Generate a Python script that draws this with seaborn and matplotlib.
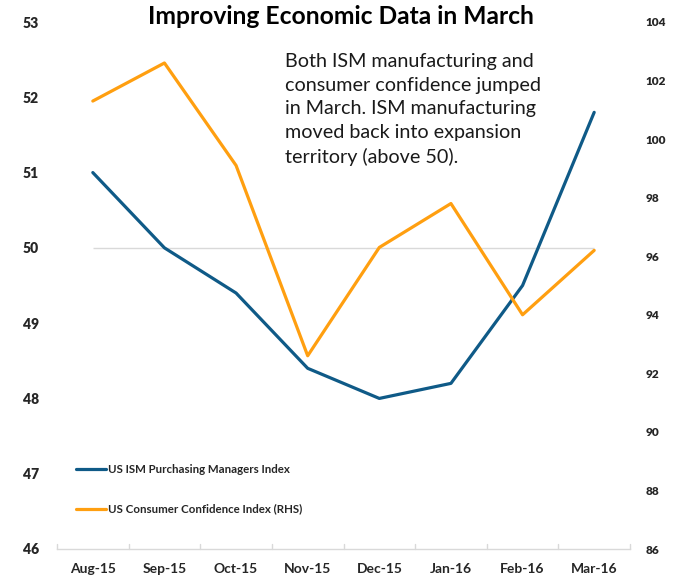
import matplotlib
matplotlib.use("Agg")
import matplotlib.pyplot as plt
import seaborn as sns
import pandas as pd
from matplotlib.lines import Line2D

sns.set_theme(style="white")
plt.rcParams["font.family"] = ["Lato", "DejaVu Sans"]

# Monthly readings
months = ["Aug-15", "Sep-15", "Oct-15", "Nov-15", "Dec-15", "Jan-16", "Feb-16", "Mar-16"]
ism_pmi = [51.0, 50.0, 49.4, 48.4, 48.0, 48.2, 49.5, 51.8]
consumer_conf = [101.3, 102.6, 99.1, 92.6, 96.3, 97.8, 94.0, 96.2]
left_ticks = [46, 47, 48, 49, 50, 51, 52, 53]
right_ticks = [86, 88, 90, 92, 94, 96, 98, 100, 102, 104]
expansion_line = 50

pmi_label = "US ISM Purchasing Managers Index"
cc_label = "US Consumer Confidence Index (RHS)"
blue = "#0F5A87"
orange = "#FF9F10"

df = pd.DataFrame({"month": months, "idx": range(len(months)),
                   "pmi": ism_pmi, "cc": consumer_conf})

fig = plt.figure(figsize=(6.73, 5.80), dpi=100)
ax = fig.add_axes([57 / 673, 1 - 549 / 580, (630 - 57) / 673, 527 / 580])
ax2 = ax.twinx()

ax.hlines(expansion_line, 0, len(months) - 1, color="#D9D9D9", lw=1.0, zorder=1)
sns.lineplot(data=df, x="idx", y="pmi", ax=ax, color=blue, lw=2.3, zorder=3)
sns.lineplot(data=df, x="idx", y="cc", ax=ax2, color=orange, lw=2.3, zorder=3)

ax.set_xlim(-0.5, len(months) - 0.5)
ax.set_ylim(left_ticks[0], left_ticks[-1])
ax2.set_ylim(right_ticks[0], right_ticks[-1])

ax.set_yticks(left_ticks)
ax.set_yticklabels([str(t) for t in left_ticks], fontsize=10, fontweight="heavy")
ax2.set_yticks(right_ticks)
ax2.set_yticklabels([str(t) for t in right_ticks], fontsize=8.5, fontweight="heavy")
ax.set_xticks(range(len(months)))
ax.set_xticklabels(months, fontsize=10, fontweight="bold")
ax.set_xlabel("")
ax.set_ylabel("")
ax2.set_ylabel("")

ax.tick_params(axis="x", length=0, pad=10)
ax.tick_params(axis="y", length=0, pad=13)
ax2.tick_params(axis="y", length=0, pad=11)

# category separators on the x axis
for b in [i - 0.5 for i in range(len(months) + 1)]:
    ax.plot([b, b], [left_ticks[0], left_ticks[0] + 0.07], color="#D9D9D9", lw=1.0,
            clip_on=False, zorder=2)

for a in (ax, ax2):
    for s in ("top", "left", "right"):
        a.spines[s].set_visible(False)
    a.spines["bottom"].set_color("#D9D9D9")
    a.spines["bottom"].set_linewidth(1.0)
    a.grid(False)
ax2.spines["bottom"].set_visible(False)

fig.text(341 / 673, 1 - 17 / 580, "Improving Economic Data in March", ha="center",
         va="center", fontsize=17.7, fontweight="bold", color="black")

fig.text(285 / 673, 1 - 53 / 580,
         "Both ISM manufacturing and\nconsumer confidence jumped\nin March. ISM manufacturing\n"
         "moved back into expansion\nterritory (above 50).",
         ha="left", va="top", fontsize=14.2, color="#1a1a1a", linespacing=1.48)

handles = [Line2D([], [], color=blue, lw=2.3), Line2D([], [], color=orange, lw=2.3)]
leg = ax.legend(handles, [pmi_label, cc_label], loc="upper left",
                bbox_to_anchor=(70 / 673, 1 - 458 / 580), bbox_transform=fig.transFigure,
                frameon=False, prop={"size": 8.3, "weight": "bold"},
                handlelength=2.6, handletextpad=0.2, labelspacing=2.5, borderpad=0)

fig.savefig("out.png", dpi=100)
